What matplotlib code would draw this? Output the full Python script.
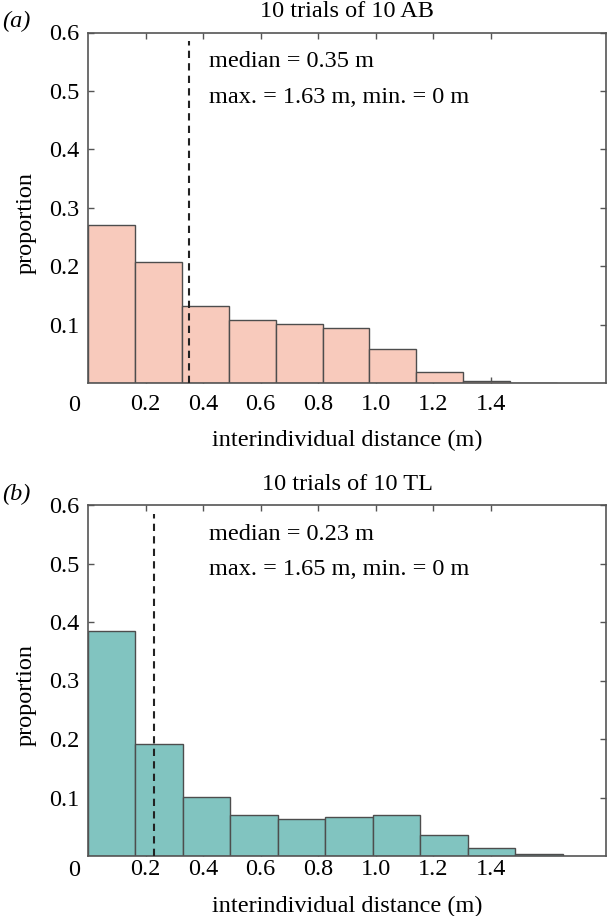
"""Interindividual distance histograms for 10 trials of 10 AB / 10 TL."""

import numpy as np
import matplotlib
matplotlib.use("Agg")
import matplotlib.pyplot as plt

# %% Data (proportion per bin)
AB_PROPORTION = [0.270, 0.208, 0.133, 0.108, 0.101, 0.095, 0.058, 0.019, 0.004, 0.001]
TL_PROPORTION = [0.384, 0.191, 0.101, 0.070, 0.063, 0.066, 0.070, 0.036, 0.013, 0.003]
AB_MEDIAN, AB_MAX, AB_MIN = 0.35, 1.63, 0
TL_MEDIAN, TL_MAX, TL_MIN = 0.23, 1.65, 0

PANELS = [
    ("(a)", "10 trials of 10 AB", AB_PROPORTION, AB_MEDIAN, AB_MAX, AB_MIN, "#f8cabc"),
    ("(b)", "10 trials of 10 TL", TL_PROPORTION, TL_MEDIAN, TL_MAX, TL_MIN, "#81c4c0"),
]

XTICKS = [0.2, 0.4, 0.6, 0.8, 1.0, 1.2, 1.4]
XTICKLABELS = ["0.2", "0.4", "0.6", "0.8", "1.0", "1.2", "1.4"]
YTICKS = [0.1, 0.2, 0.3, 0.4, 0.5, 0.6]
YTICKLABELS = ["0.1", "0.2", "0.3", "0.4", "0.5", "0.6"]

# %% Style / layout (pixel boxes of the two axes, x tick pad per panel)
plt.rcParams["font.family"] = ["Liberation Serif", "DejaVu Serif"]
FS = 17.5
SPINE = "#555555"
W, H = 608, 916
AXES_PX = [(88, 32.5, 606, 383.3), (88, 505, 606, 856)]
XPAD = [7.5, 2.5]

fig = plt.figure(figsize=(W / 100, H / 100), dpi=100)

for (tag, title, props, med, dmax, dmin, colour), (x0, y0, x1, y1), xpad in zip(
        PANELS, AXES_PX, XPAD):
    ax = fig.add_axes([x0 / W, 1 - y1 / H, (x1 - x0) / W, (y1 - y0) / H])
    n = len(props)
    edges = np.linspace(0, dmax, n + 1)
    ax.bar(edges[:-1], props, width=np.diff(edges), align="edge",
           color=colour, edgecolor="#4d4d4d", linewidth=1.0, zorder=2)
    ax.vlines(med, 0, 0.585, colors="#222222", linestyles=(0, (3.5, 2.5)),
              linewidth=1.5, zorder=3)

    ax.set_xlim(0, 1.8)
    ax.set_ylim(0, 0.6)
    ax.set_xticks(XTICKS)
    ax.set_xticklabels(XTICKLABELS)
    ax.set_yticks(YTICKS)
    ax.set_yticklabels(YTICKLABELS)
    ax.tick_params(direction="in", top=True, right=True, length=4,
                   width=1.0, color=SPINE, labelsize=FS)
    ax.tick_params(axis="x", pad=xpad)
    ax.tick_params(axis="y", pad=6)
    for sp in ax.spines.values():
        sp.set_color(SPINE)
        sp.set_linewidth(1.2)

    # origin label sits left of the corner, level with the x tick labels
    ax_h = y1 - y0
    ax.text(-0.027, -(xpad * 100 / 72 + 11.5) / ax_h, "0", transform=ax.transAxes,
            ha="center", va="center", fontsize=FS)

    ax.set_title(title, fontsize=FS, pad=11)
    ax.set_xlabel("interindividual distance (m)", fontsize=FS, labelpad=11)
    ax.set_ylabel("proportion", fontsize=FS)
    ax.yaxis.set_label_coords(-0.10, 0.458)

    ax.text(0.2336, 0.916, f"median = {med:.2f} m", transform=ax.transAxes,
            ha="left", va="center", fontsize=FS)
    ax.text(0.2336, 0.816, f"max. = {dmax:.2f} m, min. = {dmin:g} m",
            transform=ax.transAxes, ha="left", va="center", fontsize=FS)

    fig.text(16.5 / W, 1 - (y0 - 11) / H, tag, ha="center", va="center",
             fontsize=FS, style="italic")

fig.savefig("out.png", dpi=100)
